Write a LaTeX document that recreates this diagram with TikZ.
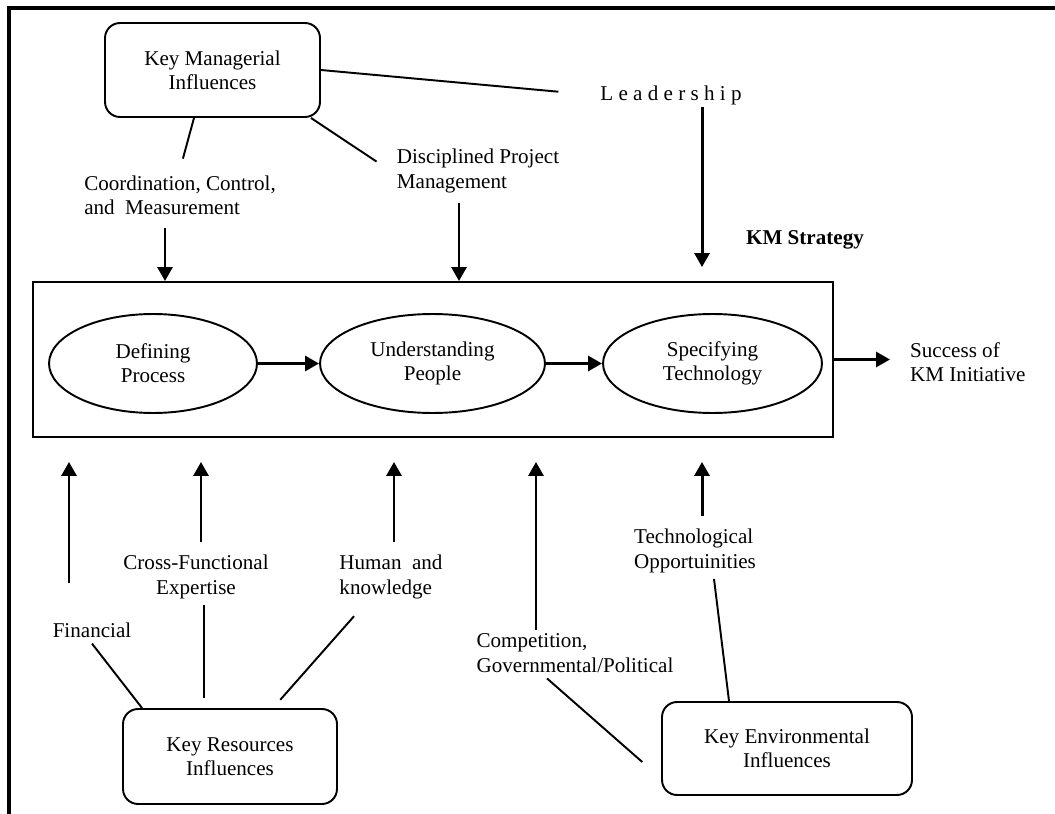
\documentclass[tikz,border=0pt]{standalone}
\usepackage{fontspec}
\setmainfont{Liberation Serif}
\usetikzlibrary{arrows.meta,positioning,shapes.geometric}

\begin{document}
\begin{tikzpicture}[
  x=0.02cm, y=-0.02cm,
  font=\fontsize{12}{13.8}\selectfont,
  infl/.style={rectangle, draw, rounded corners=0.3cm, align=center, line width=1.1pt},
  proc/.style={ellipse, draw, align=center, minimum height=1.98cm, line width=1.1pt},
  lbl/.style={align=left},
  arr/.style={-{Triangle[length=0.28cm, width=0.3cm]}, line width=1.7pt},
  lnk/.style={line width=1.1pt}
]
\useasboundingbox (0,0) rectangle (1055,814);
\draw[line width=2pt] (9,814) -- (9,8) -- (1055,8);

\node[infl, minimum width=4.3cm, minimum height=1.88cm] (kmi) at (212.5,70) {Key Managerial\\Influences};
\node (lead) at (671,95) {L e a d e r s h i p};
\node[lbl] (ccm) at (180,195) {Coordination, Control,\\and~ Measurement};
\node[lbl] (dpm) at (478,171) {Disciplined Project\\Management};
\node (kmlbl) at (805,240) {\textbf{KM Strategy}};

\node[draw, line width=1.1pt, minimum width=16cm, minimum height=3.1cm] (kms) at (433,359.5) {};
\node[proc, minimum width=4.16cm] (dp) at (153,363.5) {Defining\\Process};
\node[proc, minimum width=4.5cm] (up) at (432.5,363.5) {Understanding\\People};
\node[proc, minimum width=4.38cm] (st) at (712.5,363.5) {Specifying\\Technology};
\node[lbl, anchor=west] (succ) at (904,362) {Success of\\KM Initiative};

\node (fin) at (92,630) {Financial};
\node[align=center] (cfe) at (196,577) {Cross-Functional\\Expertise};
\node[lbl] (hk) at (391,577) {Human~ and\\knowledge};
\node[lbl] (cgp) at (575,653) {Competition,\\Governmental/Political};
\node[lbl] (tec) at (695,551) {Technological\\Opportuinities};
\node[infl, minimum width=4.28cm, minimum height=1.9cm] (kri) at (230,756.5) {Key Resources\\Influences};
\node[infl, minimum width=5cm, minimum height=1.86cm] (kei) at (787,748.5) {Key Environmental\\Influences};

\coordinate (ccm-in) at (165,228);
\coordinate (dpm-in) at (459,203);
\coordinate (lead-in) at (702,107);
\coordinate (fin-in) at (69,583);
\coordinate (cfe-in) at (201,542);
\coordinate (hk-in) at (394,542);
\coordinate (cgp-in) at (536,630);
\coordinate (tec-in) at (702,516);

\draw[lnk, shorten >=0.72cm] (kmi.east) -- (lead.west);
\draw[lnk, shorten >=0.22cm] ([xshift=-0.37cm]kmi.south) -- (ccm.north);
\draw[lnk, shorten >=0.34cm] ([xshift=-0.2cm]kmi.south east) -- (dpm.west);

\draw[arr] (ccm-in) -- (ccm-in |- kms.north);
\draw[arr] (dpm-in) -- (dpm-in |- kms.north);
\draw[arr, shorten >=0.28cm] (lead-in) -- (lead-in |- kms.north);

\draw[arr] (dp) -- (up);
\draw[arr] (up) -- (st);
\draw[arr, shorten >=0.28cm] (kms.east) -- (kms.east -| succ.west);

\draw[arr, shorten >=0.48cm] (fin-in) -- (fin-in |- kms.south);
\draw[arr, shorten >=0.48cm] (cfe-in) -- (cfe-in |- kms.south);
\draw[arr, shorten >=0.48cm] (hk-in) -- (hk-in |- kms.south);
\draw[arr, shorten >=0.48cm] (cgp-in) -- (cgp-in |- kms.south);
\draw[arr, shorten >=0.48cm] (tec-in) -- (tec-in |- kms.south);

\draw[lnk] (fin.south) -- ([xshift=0.4cm]kri.north west);
\draw[lnk, shorten >=0.2cm] ([xshift=0.16cm]cfe.south) -- ([xshift=0.16cm]cfe.south |- kri.north);
\draw[lnk, shorten <=0.3cm, shorten >=0.22cm] ([xshift=-0.54cm]hk.south) -- ([xshift=-1.3cm]kri.north east);
\draw[lnk, shorten >=0.5cm] ([xshift=-0.56cm]cgp.south) -- ([yshift=-0.6cm]kei.west);
\draw[lnk] ([xshift=0.38cm]tec.south) -- ([xshift=-1.16cm]kei.north);
\end{tikzpicture}
\end{document}
